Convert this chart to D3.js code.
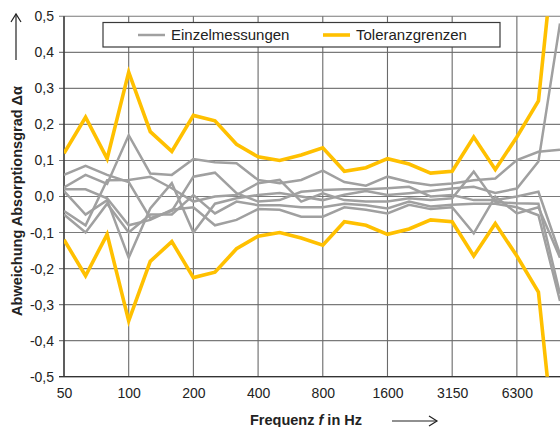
<!DOCTYPE html>
<html>
<head>
<meta charset="utf-8">
<script src="https://cdn.jsdelivr.net/npm/d3@7"></script>
<style>
  html, body { margin: 0; padding: 0; background: #fff; }
  svg { display: block; font-family: "Liberation Sans", Arial, sans-serif; }
</style>
</head>
<body>
<svg id="chart" width="560" height="427"></svg>
<script>
// Third-octave band centre frequencies (Hz)
const bands = ["50","63","80","100","125","160","200","250","315","400","500","630",
               "800","1000","1250","1600","2000","2500","3150","4000","5000","6300","8000","10000"];
// Bands that carry a tick label and a vertical grid line
const tickBands = ["50","100","200","400","800","1600","3150","6300"];
const yTicks = [-0.5,-0.4,-0.3,-0.2,-0.1,0,0.1,0.2,0.3,0.4,0.5];

// Tolerance limits (upper / lower)
const tolUpper = [0.12,0.22,0.105,0.345,0.18,0.125,0.225,0.21,0.145,0.11,0.10,0.115,
                  0.135,0.07,0.08,0.105,0.09,0.065,0.07,0.165,0.075,0.165,0.265,0.84];
const tolLower = [-0.12,-0.22,-0.105,-0.345,-0.18,-0.125,-0.225,-0.21,-0.145,-0.11,-0.10,-0.115,
                  -0.135,-0.07,-0.08,-0.105,-0.09,-0.065,-0.07,-0.165,-0.075,-0.165,-0.265,-0.84];

// Individual measurements (deviation of absorption coefficient)
const meas1 = [0.025,0.06,0.035,0.17,0.064,0.06,0.104,0.095,0.092,0.046,0.037,0.046,
               0.072,0.04,0.03,0.055,0.04,0.031,0.036,0.045,0.05,0.101,0.124,0.13];
const meas2 = [0.015,-0.05,-0.01,-0.17,-0.033,0.037,-0.10,-0.02,-0.005,0.004,0.01,0.0,
               -0.01,0.005,0.015,0.004,0.009,0.015,0.022,0.027,0.01,0.022,0.097,0.48];
const meas3 = [0.06,0.085,0.06,0.04,-0.06,-0.04,0.055,0.066,0.009,-0.014,-0.01,0.013,
               0.018,0.02,0.02,0.023,0.027,0.0,0.004,-0.01,-0.01,0.0,0.013,-0.16];
const meas4 = [-0.04,-0.08,0.045,0.046,0.055,0.023,-0.014,0.0,0.004,0.037,0.046,-0.014,
               0.009,-0.01,-0.014,-0.014,-0.005,-0.01,-0.005,0.069,-0.015,-0.019,-0.02,-0.27];
const meas5 = [-0.05,-0.10,-0.02,-0.10,-0.05,-0.05,0.004,-0.047,-0.014,-0.024,-0.024,-0.03,
               -0.03,-0.02,-0.024,-0.033,-0.014,-0.028,-0.023,-0.02,-0.02,-0.03,-0.052,-0.29];
const meas6 = [0.02,0.02,-0.005,-0.08,-0.065,-0.037,-0.03,-0.08,-0.065,-0.035,-0.037,-0.056,
               -0.056,-0.03,-0.037,-0.047,-0.023,-0.035,-0.03,-0.102,0.0,-0.047,-0.03,-0.17];

const measurements = [meas1, meas2, meas3, meas4, meas5, meas6];
const tolerances = [tolUpper, tolLower];

const legendLabels = ["Einzelmessungen", "Toleranzgrenzen"];
const colGrey = "#a0a0a0";
const colGold = "#ffc000";

const svg = d3.select("#chart");
const plotLeft = 64, plotRight = 560, plotTop = 16.3, plotBottom = 376.7;

const x = d3.scalePoint().domain(bands).range([plotLeft, plotRight]);
const y = d3.scaleLinear().domain([-0.5, 0.5]).range([plotBottom, plotTop]);

const fmtY = d => d3.format(".1f")(d).replace(".", ",").replace("\u2212", "-");

// Clip region for the data lines
svg.append("defs").append("clipPath").attr("id", "plotClip")
  .append("rect").attr("x", plotLeft).attr("y", plotTop)
  .attr("width", plotRight - plotLeft).attr("height", plotBottom - plotTop);

// Horizontal grid lines (with short outer ticks)
svg.append("g").selectAll("line").data(yTicks).join("line")
  .attr("x1", plotLeft - 5).attr("x2", plotRight)
  .attr("y1", d => y(d)).attr("y2", d => y(d))
  .attr("stroke", "#7a7a7a").attr("stroke-width", 1.1);

// Vertical grid lines at labelled bands
svg.append("g").selectAll("line").data(tickBands).join("line")
  .attr("x1", d => x(d)).attr("x2", d => x(d))
  .attr("y1", plotTop).attr("y2", plotBottom)
  .attr("stroke", "#6a6a6a").attr("stroke-width", 1.1);

// y tick labels
const gy = svg.append("g").attr("transform", `translate(${plotLeft},0)`)
  .call(d3.axisLeft(y).tickValues(yTicks).tickSize(0).tickPadding(10).tickFormat(fmtY));
gy.select(".domain").remove();
gy.selectAll("text").attr("font-size", 14).attr("fill", "#222")
  .attr("font-family", "Liberation Sans, Arial, sans-serif");

// x tick labels
const gx = svg.append("g").attr("transform", `translate(0,${plotBottom})`)
  .call(d3.axisBottom(x).tickValues(tickBands).tickSize(0).tickPadding(11));
gx.select(".domain").remove();
gx.selectAll("text").attr("font-size", 14).attr("fill", "#222")
  .attr("font-family", "Liberation Sans, Arial, sans-serif");

// Axis frame lines
svg.append("line").attr("x1", plotLeft).attr("x2", plotLeft).attr("y1", plotTop).attr("y2", plotBottom)
  .attr("stroke", "#333").attr("stroke-width", 1.3);
svg.append("line").attr("x1", plotLeft - 5).attr("x2", plotRight).attr("y1", plotBottom).attr("y2", plotBottom)
  .attr("stroke", "#333").attr("stroke-width", 1.3);

const line = d3.line().x((d, i) => x(bands[i])).y(d => y(d));
const plot = svg.append("g").attr("clip-path", "url(#plotClip)");

plot.selectAll("path.meas").data(measurements).join("path")
  .attr("class", "meas").attr("d", line)
  .attr("fill", "none").attr("stroke", colGrey).attr("stroke-width", 2.5)
  .attr("stroke-linejoin", "miter");

plot.selectAll("path.tol").data(tolerances).join("path")
  .attr("class", "tol").attr("d", line)
  .attr("fill", "none").attr("stroke", colGold).attr("stroke-width", 3.6)
  .attr("stroke-linejoin", "miter");

// Legend
const lg = svg.append("g");
lg.append("rect").attr("x", 103).attr("y", 22.5).attr("width", 397).attr("height", 24.5)
  .attr("fill", "#fff").attr("stroke", "#3a3a3a").attr("stroke-width", 1.2);
const legendItems = [
  { label: legendLabels[0], color: colGrey, w: 2.5, x0: 138 },
  { label: legendLabels[1], color: colGold, w: 3.6, x0: 323 }
];
legendItems.forEach(it => {
  lg.append("line").attr("x1", it.x0).attr("x2", it.x0 + 27).attr("y1", 35).attr("y2", 35)
    .attr("stroke", it.color).attr("stroke-width", it.w);
  lg.append("text").attr("x", it.x0 + 33).attr("y", 40).attr("font-size", 15)
    .attr("fill", "#222").text(it.label);
});

// Axis titles with direction arrows
const arrowHead = (x1, y1, dx, dy) => {
  // open V arrowhead at (x1,y1) pointing along (dx,dy)
  const px = -dy, py = dx, s = 5, b = 8;
  return `M${x1 - dx * b + px * s},${y1 - dy * b + py * s} L${x1},${y1} L${x1 - dx * b - px * s},${y1 - dy * b - py * s}`;
};

svg.append("text")
  .attr("transform", "translate(22,201) rotate(-90)")
  .attr("text-anchor", "middle").attr("font-size", 14.5).attr("font-weight", "bold").attr("fill", "#222")
  .text("Abweichung Absorptionsgrad Δα");
svg.append("line").attr("x1", 16).attr("x2", 16).attr("y1", 60).attr("y2", 14)
  .attr("stroke", "#222").attr("stroke-width", 1.2);
svg.append("path").attr("d", arrowHead(16, 14, 0, -1)).attr("fill", "none")
  .attr("stroke", "#222").attr("stroke-width", 1.2);

const xt = svg.append("text").attr("x", 250).attr("y", 425)
  .attr("font-size", 14.5).attr("font-weight", "bold").attr("fill", "#222");
xt.append("tspan").text("Frequenz ");
xt.append("tspan").attr("font-style", "italic").text("f");
xt.append("tspan").text(" in Hz");
svg.append("line").attr("x1", 392).attr("x2", 437).attr("y1", 421).attr("y2", 421)
  .attr("stroke", "#222").attr("stroke-width", 1.2);
svg.append("path").attr("d", arrowHead(437, 421, 1, 0)).attr("fill", "none")
  .attr("stroke", "#222").attr("stroke-width", 1.2);
</script>
</body>
</html>
